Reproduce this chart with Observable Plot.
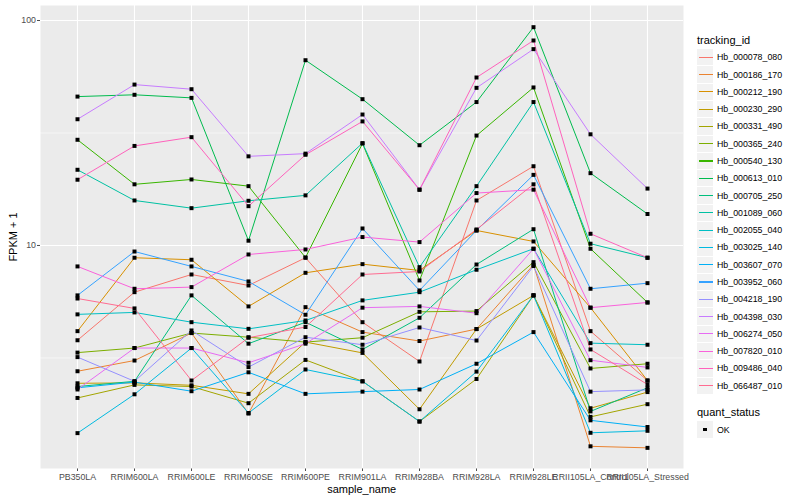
<!DOCTYPE html>
<html><head><meta charset="utf-8">
<script src="https://cdn.jsdelivr.net/npm/d3@7"></script>
<script src="https://cdn.jsdelivr.net/npm/@observablehq/plot@0.6"></script>
<style>
body{margin:0;background:#fff;font-family:"Liberation Sans",Arial,sans-serif;}
#wrap{position:relative;width:800px;height:500px;overflow:hidden;}
.abs{position:absolute;white-space:nowrap;}
.ttl{font-size:11px;color:#000;}
.lt{font-size:8.8px;color:#000;}
</style></head><body>
<div id="wrap"></div>
<script>
const samples = ["PB350LA","RRIM600LA","RRIM600LE","RRIM600SE","RRIM600PE","RRIM901LA","RRIM928BA","RRIM928LA","RRIM928LE","RRII105LA_Control","RRII105LA_Stressed"];
const trackingIds = ["Hb_000078_080","Hb_000186_170","Hb_000212_190","Hb_000230_290","Hb_000331_490","Hb_000365_240","Hb_000540_130","Hb_000613_010","Hb_000705_250","Hb_001089_060","Hb_002055_040","Hb_003025_140","Hb_003607_070","Hb_003952_060","Hb_004218_190","Hb_004398_030","Hb_006274_050","Hb_007820_010","Hb_009486_040","Hb_066487_010"];
const colors = ["#F8766D","#EA8331","#D89000","#C09B00","#A3A500","#7CAE00","#39B600","#00BB4E","#00BF7D","#00C1A3","#00BFC4","#00BAE0","#00B0F6","#35A2FF","#9590FF","#C77CFF","#E76BF3","#FA62DB","#FF62BC","#FF6C91"];
const quantStatus = ["OK"];

// FPKM + 1 per sample (same order as samples)
const Hb_000078_080 = [3.79, 6.20, 7.43, 6.64, 8.82, 4.56, 3.05, 15.85, 22.5, 4.16, 2.51];
const Hb_000186_170 = [2.76, 3.08, 4.08, 1.79, 5.32, 4.12, 3.76, 4.25, 8.20, 1.28, 1.26];
const Hb_000212_190 = [4.16, 8.82, 8.64, 5.36, 7.56, 8.26, 7.74, 11.66, 10.42, 5.29, 2.51];
const Hb_000230_290 = [2.44, 2.45, 2.39, 2.19, 3.72, 3.33, 1.87, 4.25, 6.0, 1.89, 2.23];
const Hb_000331_490 = [2.10, 2.40, 2.36, 1.99, 3.10, 2.49, 1.65, 2.55, 6.0, 1.73, 1.97];
const Hb_000365_240 = [3.34, 3.50, 4.08, 3.91, 3.72, 3.89, 5.07, 5.11, 8.43, 2.84, 2.98];
const Hb_000540_130 = [29.5, 18.7, 19.65, 18.35, 8.84, 28.4, 6.99, 30.8, 50.4, 9.67, 5.58];
const Hb_000613_010 = [45.9, 46.75, 45.3, 10.5, 66.6, 44.7, 27.9, 43.4, 93.4, 20.96, 13.8];
const Hb_000705_250 = [2.36, 2.49, 6.0, 3.66, 4.56, 3.45, 4.77, 8.23, 11.81, 1.83, 2.33];
const Hb_001089_060 = [21.7, 15.85, 14.65, 15.8, 16.7, 28.5, 8.01, 18.35, 43.4, 10.18, 8.82];
const Hb_002055_040 = [4.94, 5.04, 4.56, 4.26, 4.64, 5.70, 6.20, 7.80, 9.67, 3.68, 3.62];
const Hb_003025_140 = [1.465, 2.18, 3.50, 1.80, 2.81, 2.49, 1.65, 2.75, 6.0, 1.47, 1.50];
const Hb_003607_070 = [2.33, 2.47, 2.25, 2.73, 2.19, 2.24, 2.29, 2.98, 4.12, 1.67, 1.56];
const Hb_003952_060 = [6.0, 9.40, 8.07, 6.92, 4.92, 11.9, 6.31, 11.66, 20.6, 6.42, 6.80];
const Hb_004218_190 = [3.19, 2.49, 4.19, 2.88, 3.91, 3.62, 4.32, 3.78, 8.10, 2.24, 2.28];
const Hb_004398_030 = [36.4, 51.9, 49.5, 24.9, 25.6, 38.2, 17.7, 50.2, 74.6, 31.2, 17.9];
const Hb_006274_050 = [2.29, 3.50, 3.50, 3.01, 3.66, 5.29, 5.36, 5.00, 9.67, 3.09, 2.87];
const Hb_007820_010 = [8.07, 6.42, 6.53, 9.12, 9.60, 10.9, 10.35, 17.1, 17.7, 5.29, 5.58];
const Hb_009486_040 = [19.6, 27.7, 30.3, 14.95, 25.3, 35.6, 17.7, 55.8, 81.5, 11.27, 8.82];
const Hb_066487_010 = [5.81, 5.25, 2.51, 3.89, 4.34, 7.43, 7.66, 11.78, 18.7, 3.45, 2.41];

const seriesValues = [Hb_000078_080,Hb_000186_170,Hb_000212_190,Hb_000230_290,Hb_000331_490,Hb_000365_240,Hb_000540_130,Hb_000613_010,Hb_000705_250,Hb_001089_060,Hb_002055_040,Hb_003025_140,Hb_003607_070,Hb_003952_060,Hb_004218_190,Hb_004398_030,Hb_006274_050,Hb_007820_010,Hb_009486_040,Hb_066487_010];

const yMajor = [10, 100];
const yMinor = [Math.sqrt(10), Math.sqrt(1000)];

const rows = [];
trackingIds.forEach((id, i) => samples.forEach((s, j) => rows.push({id, sample: s, value: seriesValues[i][j], status: "OK"})));

const plot = Plot.plot({
  width: 800, height: 500,
  marginLeft: 40, marginRight: 117, marginTop: 5, marginBottom: 32,
  style: {fontFamily: '"Liberation Sans", Arial, sans-serif', fontSize: "8.8px", color: "#4D4D4D", background: "transparent"},
  x: {type: "point", domain: samples, padding: 0.6, label: null, tickSize: 3, tickPadding: 2},
  y: {type: "log", domain: [1.02, 116.6], ticks: yMajor, tickFormat: d => String(d), tickSize: 3, tickPadding: 1.5, label: null},
  color: {domain: trackingIds, range: colors},
  marks: [
    Plot.frame({fill: "#EBEBEB", stroke: "none"}),
    Plot.ruleY(yMinor, {y: d => d, stroke: "white", strokeWidth: 0.55}),
    Plot.ruleY(yMajor, {y: d => d, stroke: "white", strokeWidth: 1.1}),
    Plot.ruleX(samples, {x: d => d, stroke: "white", strokeWidth: 1.1}),
    Plot.line(rows, {x: "sample", y: "value", z: "id", stroke: "id", strokeWidth: 1}),
    Plot.dot(rows, {x: "sample", y: "value", fill: "black", stroke: "none", r: 2.25, symbol: "square"})
  ]
});
const wrap = document.getElementById("wrap");
plot.style.position = "absolute"; plot.style.left = "0"; plot.style.top = "0";
wrap.appendChild(plot);

function addDiv(cls, text, css) {
  const d = document.createElement("div");
  d.className = "abs " + cls; d.textContent = text;
  Object.assign(d.style, css); wrap.appendChild(d); return d;
}
addDiv("ttl", "sample_name", {left: "361.7px", top: "483px", transform: "translateX(-50%)", lineHeight: "13px"});
addDiv("ttl", "FPKM + 1", {left: "13px", top: "236.5px", transform: "translate(-50%,-50%) rotate(-90deg)", lineHeight: "13px"});

// legend: tracking_id
addDiv("ttl", "tracking_id", {left: "697px", top: "34px", lineHeight: "13px"});
const step = 17.28, first = 57.3;
trackingIds.forEach((id, i) => {
  const cy = first + i * step;
  const box = document.createElement("div");
  box.className = "abs";
  Object.assign(box.style, {left: "697px", top: (cy - 8.1) + "px", width: "16.3px", height: "16.3px", background: "#F2F2F2"});
  const ln = document.createElement("div");
  Object.assign(ln.style, {position: "absolute", left: "1.5px", right: "0px", top: "7.6px", height: "1.1px", background: colors[i]});
  box.appendChild(ln); wrap.appendChild(box);
  addDiv("lt", id, {left: "717px", top: (cy - 6) + "px", lineHeight: "12px"});
});
// legend: quant_status
addDiv("ttl", "quant_status", {left: "697px", top: "406px", lineHeight: "13px"});
quantStatus.forEach((q, i) => {
  const cy = 429.5 + i * step;
  const box = document.createElement("div");
  box.className = "abs";
  Object.assign(box.style, {left: "697px", top: (cy - 8.1) + "px", width: "16.3px", height: "16.3px", background: "#F2F2F2"});
  const sq = document.createElement("div");
  Object.assign(sq.style, {position: "absolute", left: "6.4px", top: "6.4px", width: "3.6px", height: "3.6px", background: "#000"});
  box.appendChild(sq); wrap.appendChild(box);
  addDiv("lt", q, {left: "717px", top: (cy - 6) + "px", lineHeight: "12px"});
});
</script>
</body></html>
